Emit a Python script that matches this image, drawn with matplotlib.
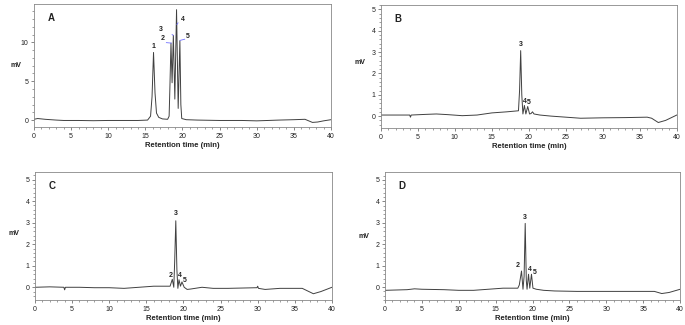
import numpy as np
import matplotlib
matplotlib.use('Agg')
import matplotlib.pyplot as plt
from matplotlib.ticker import MultipleLocator

plt.rcParams['font.family'] = ['Liberation Sans', 'DejaVu Sans']

# traced chromatograms (time in min, signal in mV)
A_time = [0, 0.5, 1.5, 3, 4, 6, 8, 10, 12, 14, 15.3, 15.7, 15.9, 16.1, 16.3, 16.5, 16.8, 17.3,
          18.0, 18.2, 18.3, 18.45, 18.6, 18.77, 18.97, 19.2, 19.42, 19.65, 19.78, 19.9, 20.5,
          22, 25, 28, 30, 33, 35, 36.5, 37, 37.5, 38.2, 39, 40]
A_signal = [0.1, 0.2, 0.1, 0.0, -0.05, -0.05, -0.08, -0.05, -0.05, -0.05, 0.0, 0.5, 3.0, 8.7, 3.5,
            0.9, 0.35, 0.15, 0.1, 0.5, 4.0, 9.9, 4.8, 10.9, 2.7, 14.2, 1.5, 10.2, 2.0, 0.2, 0.05,
            0.0, -0.05, -0.05, -0.1, 0.0, 0.05, 0.1, -0.1, -0.3, -0.25, -0.1, 0.05]

B_time = [0, 2, 3.9, 4.0, 4.1, 6, 7.5, 9, 11, 13, 15, 17, 18.6, 18.75, 18.9, 19.05, 19.2, 19.4,
          19.6, 19.85, 20.1, 20.3, 20.5, 20.7, 21.5, 23, 25, 27, 30, 33, 36, 36.6, 37.5, 38.5, 40]
B_signal = [0.05, 0.05, 0.05, -0.05, 0.05, 0.08, 0.1, 0.07, 0.02, 0.05, 0.15, 0.2, 0.25, 1.2, 3.07,
            1.0, 0.1, 0.5, 0.1, 0.45, 0.1, 0.12, 0.2, 0.1, 0.05, 0.0, -0.05, -0.1, -0.08, -0.07,
            -0.05, -0.1, -0.3, -0.2, 0.05]

C_time = [0, 2, 3.9, 4.0, 4.1, 6, 8, 10, 12, 14, 16, 18.2, 18.5, 18.7, 18.82, 18.97, 19.12, 19.25,
          19.4, 19.6, 19.8, 20.1, 20.5, 21, 22.5, 24, 26, 29.9, 30.0, 30.1, 31, 33, 36, 36.6,
          37.5, 38.5, 40]
C_signal = [0.0, 0.02, 0.0, -0.12, 0.0, 0.0, -0.02, -0.02, -0.05, 0.0, 0.05, 0.05, 0.37, 0.0, 1.2,
            3.09, 0.8, -0.05, 0.35, 0.05, 0.25, 0.0, -0.1, -0.08, 0.0, -0.05, -0.05, -0.02, 0.05,
            -0.05, -0.1, -0.05, -0.05, -0.15, -0.3, -0.2, 0.0]

D_time = [0, 3, 4.0, 5, 8, 10, 12, 14, 16, 18.0, 18.2, 18.5, 18.7, 18.85, 19.0, 19.15, 19.25,
          19.45, 19.62, 19.85, 20.05, 20.5, 21.5, 23, 26, 30, 34, 36.5, 37.5, 38.5, 40]
D_signal = [-0.15, -0.12, -0.08, -0.1, -0.12, -0.15, -0.15, -0.1, -0.05, -0.05, 0.1, 0.75, -0.1,
            0.5, 2.97, 0.3, -0.1, 0.6, -0.05, 0.6, -0.05, -0.1, -0.15, -0.18, -0.2, -0.2, -0.2,
            -0.2, -0.3, -0.25, -0.1]

# peak labels: text, x, y
A_labels = [('1', 16.1, 9.4), ('2', 17.4, 10.5), ('3', 17.1, 11.7), ('4', 20.1, 12.9), ('5', 20.7, 10.7)]
B_labels = [('3', 18.9, 3.38), ('4', 19.5, 0.69), ('5', 20.05, 0.64)]
C_labels = [('2', 18.25, 0.57), ('3', 18.97, 3.43), ('4', 19.55, 0.53), ('5', 20.2, 0.31)]
D_labels = [('2', 18.05, 1.03), ('3', 19.0, 3.25), ('4', 19.6, 0.83), ('5', 20.3, 0.69)]

# blue integration marks in A
A_marks = [((17.83, 18.5), (9.96, 9.9)), ((18.6, 18.75), (11.0, 10.9)),
           ((19.25, 19.4), (12.3, 12.5)), ((19.67, 20.3), (10.25, 10.4))]

panels = [
    ('A', A_time, A_signal, A_labels, (-0.9, 14.9), [0, 5, 10], 1, [0.0496, 0.609, 0.4336, 0.378], (0.015, 0.797)),
    ('B', B_time, B_signal, B_labels, (-0.56, 5.2), [0, 1, 2, 3, 4, 5], 0.2, [0.556, 0.606, 0.432, 0.378], (0.517, 0.809)),
    ('C', C_time, C_signal, C_labels, (-0.59, 5.36), [0, 1, 2, 3, 4, 5], 0.2, [0.051, 0.077, 0.4336, 0.394], (0.012, 0.283)),
    ('D', D_time, D_signal, D_labels, (-0.6, 5.37), [0, 1, 2, 3, 4, 5], 0.2, [0.562, 0.077, 0.431, 0.394], (0.523, 0.271)),
]

fig = plt.figure(figsize=(6.85, 3.25), dpi=100)
lc = '#404040'

for name, t, s, labs, ylim, yt, ymin, pos, mvpos in panels:
    ax = fig.add_axes(pos)
    ax.plot(t, s, color=lc, lw=0.7)
    ax.set_xlim(0, 40)
    ax.set_ylim(*ylim)
    ax.set_xticks(range(0, 41, 5))
    ax.set_yticks(yt)
    ax.xaxis.set_minor_locator(MultipleLocator(1))
    ax.yaxis.set_minor_locator(MultipleLocator(ymin))
    ax.tick_params(which='major', length=2.5, width=0.5, labelsize=5, pad=1.5, colors='#555555',
                   labelcolor='#222222')
    ax.tick_params(which='minor', length=1.3, width=0.4, colors='#555555')
    for sp in ax.spines.values():
        sp.set_color('#888888')
        sp.set_linewidth(0.6)
    ax.set_xlabel('Retention time (min)', fontsize=5.5, fontweight='bold', labelpad=2, color='#222222')
    ax.text(0.045, 0.93, name, transform=ax.transAxes, fontsize=7, fontweight='bold',
            va='top', ha='left', color='#222222')
    for txt, x, y in labs:
        ax.text(x, y, txt, fontsize=5, fontweight='bold', ha='center', va='center', color='#222222')
    if name == 'A':
        for xs, ys in A_marks:
            ax.plot(xs, ys, color='#7070ff', lw=0.6)
    fig.text(mvpos[0], mvpos[1], 'mV', fontsize=5, fontweight='bold', ha='left', va='center',
             color='#222222')

fig.savefig('out.png', dpi=100)
